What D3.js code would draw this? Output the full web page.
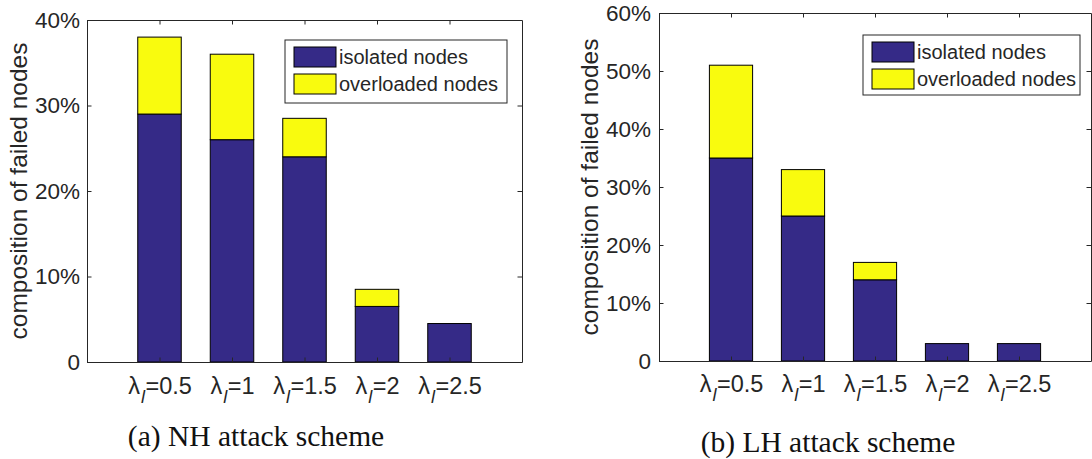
<!DOCTYPE html>
<html>
<head>
<meta charset="utf-8">
<script src="https://cdn.jsdelivr.net/npm/d3@7"></script>
<style>
  html, body { margin: 0; padding: 0; background: #fff; }
  svg { display: block; }
  text { font-family: "Liberation Sans", Arial, Helvetica, sans-serif; fill: #262626; }
  .caption { font-family: "Liberation Serif", "Times New Roman", serif; fill: #111; }
</style>
</head>
<body>
<svg id="fig" width="1092" height="459"></svg>
<script>
// λ_l values on the x axis
const lambdaValues = ["0.5", "1", "1.5", "2", "2.5"];

// series names
const seriesNames = ["isolated nodes", "overloaded nodes"];

// (a) NH attack scheme, percent of failed nodes
const nhIsolated = [29, 26, 24, 6.5, 4.5];
const nhOverloaded = [9, 10, 4.5, 2, 0];
const nhTicks = [0, 10, 20, 30, 40];

// (b) LH attack scheme, percent of failed nodes
const lhIsolated = [35, 25, 14, 3, 3];
const lhOverloaded = [16, 8, 3, 0, 0];
const lhTicks = [0, 10, 20, 30, 40, 50, 60];

const seriesColors = ["#352a87", "#f9fb0e"];
const axisColor = "#262626";

const svg = d3.select("#fig");

function drawPanel(opts) {
  const { left, top, width, height, isolated, overloaded, ticks, caption, captionY, legend } = opts;
  const g = svg.append("g").attr("transform", `translate(${left},${top})`);

  const x = d3.scaleLinear().domain([0, lambdaValues.length + 1]).range([0, width]);
  const y = d3.scaleLinear().domain([0, d3.max(ticks)]).range([height, 0]);
  const barW = x(0.6) - x(0);

  const rows = lambdaValues.map((v, i) => ({ key: v, isolated: isolated[i], overloaded: overloaded[i], pos: i + 1 }));
  const stacked = d3.stack().keys(["isolated", "overloaded"])(rows);

  // stacked bars
  stacked.forEach((layer, li) => {
    g.append("g").selectAll("rect")
      .data(layer.filter(d => d[1] - d[0] > 0))
      .join("rect")
      .attr("x", d => x(d.data.pos) - barW / 2)
      .attr("width", barW)
      .attr("y", d => y(d[1]))
      .attr("height", d => y(d[0]) - y(d[1]))
      .attr("fill", seriesColors[li])
      .attr("stroke", "#000")
      .attr("stroke-width", 1);
  });

  const tickLen = 4.5;
  const fmt = v => v === 0 ? "0" : `${v}%`;

  // left axis with labels, ticks pointing inward
  const yAxis = g.append("g").call(
    d3.axisLeft(y).tickValues(ticks).tickFormat(fmt).tickSizeInner(-tickLen).tickSizeOuter(0).tickPadding(opts.tickPad)
  );
  yAxis.select(".domain").attr("stroke", axisColor);
  yAxis.selectAll(".tick line").attr("stroke", axisColor);
  yAxis.selectAll(".tick text").attr("font-size", 22.5).attr("fill", axisColor)
    .attr("font-family", "'Liberation Sans', Arial, sans-serif");

  // right axis ticks only
  const yAxisR = g.append("g").attr("transform", `translate(${width},0)`).call(
    d3.axisRight(y).tickValues(ticks).tickFormat("").tickSizeInner(-tickLen).tickSizeOuter(0)
  );
  yAxisR.select(".domain").attr("stroke", axisColor);
  yAxisR.selectAll(".tick line").attr("stroke", axisColor);

  // top axis ticks only
  const xAxisT = g.append("g").call(
    d3.axisTop(x).tickValues(rows.map(r => r.pos)).tickFormat("").tickSizeInner(-tickLen).tickSizeOuter(0)
  );
  xAxisT.select(".domain").attr("stroke", axisColor);
  xAxisT.selectAll(".tick line").attr("stroke", axisColor);

  // bottom axis with λ_l labels
  const xAxisB = g.append("g").attr("transform", `translate(0,${height})`).call(
    d3.axisBottom(x).tickValues(rows.map(r => r.pos)).tickFormat("").tickSizeInner(-tickLen).tickSizeOuter(0)
  );
  xAxisB.select(".domain").attr("stroke", axisColor);
  xAxisB.selectAll(".tick line").attr("stroke", axisColor);
  xAxisB.selectAll(".tick").each(function (p, i) {
    const t = d3.select(this).append("text")
      .attr("y", opts.labelOffset)
      .attr("text-anchor", "middle")
      .attr("font-size", 23.5)
      .attr("fill", axisColor);
    t.append("tspan").text("λ");
    t.append("tspan").attr("font-style", "italic").attr("font-size", 18).attr("dy", 9).attr("dx", 1).text("l");
    t.append("tspan").attr("dy", -9).attr("dx", 0.5).text("=" + lambdaValues[i]);
  });

  // y axis title
  g.append("text")
    .attr("transform", `translate(${-opts.titleOffset},${height / 2}) rotate(-90)`)
    .attr("text-anchor", "middle")
    .attr("font-size", 24.5)
    .attr("fill", axisColor)
    .text("composition of failed nodes");

  // legend
  const lg = g.append("g").attr("transform", `translate(${legend.x},${legend.y})`);
  lg.append("rect").attr("width", legend.w).attr("height", legend.h)
    .attr("fill", "#fff").attr("stroke", axisColor).attr("stroke-width", 1);
  seriesNames.forEach((name, i) => {
    const rowY = 7 + i * 27;
    lg.append("rect").attr("x", 9).attr("y", rowY).attr("width", 42).attr("height", 20)
      .attr("fill", seriesColors[i]).attr("stroke", "#000").attr("stroke-width", 1);
    lg.append("text").attr("x", 54).attr("y", rowY + 17)
      .attr("font-size", 20).attr("fill", "#111").text(name);
  });

  // panel caption
  svg.append("text")
    .attr("class", "caption")
    .attr("x", opts.captionX)
    .attr("y", captionY)
    .attr("text-anchor", "middle")
    .attr("font-size", 29.5)
    .text(caption);
}

drawPanel({
  left: 87, top: 20, width: 435, height: 342,
  isolated: nhIsolated, overloaded: nhOverloaded, ticks: nhTicks,
  titleOffset: 60, tickPad: 7, labelOffset: 32,
  legend: { x: 198, y: 20, w: 222, h: 63 },
  caption: "(a) NH attack scheme", captionX: 256, captionY: 446
});

drawPanel({
  left: 659, top: 13, width: 432, height: 348,
  isolated: lhIsolated, overloaded: lhOverloaded, ticks: lhTicks,
  titleOffset: 61, tickPad: 8, labelOffset: 31,
  legend: { x: 204, y: 22, w: 217, h: 60 },
  caption: "(b) LH attack scheme", captionX: 828, captionY: 452
});
</script>
</body>
</html>
